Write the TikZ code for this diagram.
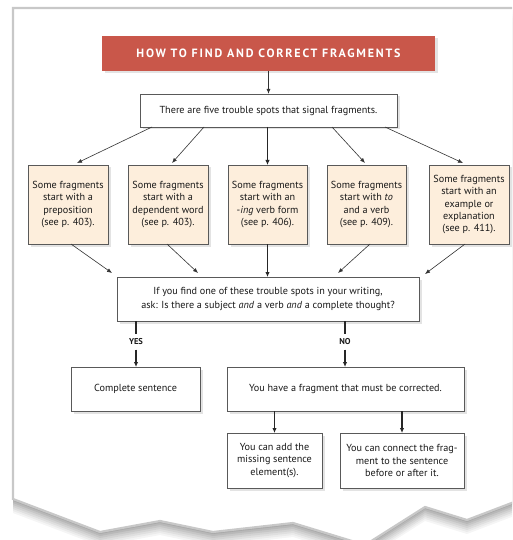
\documentclass[tikz,border=0pt]{standalone}
\usepackage{fontspec}
\setmainfont{PT Sans}
\usetikzlibrary{arrows.meta,shadows,calc}
\definecolor{headred}{HTML}{C9574A}
\definecolor{beige}{HTML}{FDEEDC}
\definecolor{framegray}{HTML}{C8C8C8}
\tikzset{
  box/.style={draw=black!65, line width=0.6pt, fill=white, align=center, inner sep=0pt, outer sep=0pt,
    anchor=north west, font=\fontsize{10.2}{12.4}\selectfont, text=black!90,
    drop shadow={opacity=0.22, shadow xshift=2.5pt, shadow yshift=-2.5pt}},
  spot/.style={box, fill=beige, minimum width=80pt, minimum height=79pt},
  thinarr/.style={draw=black!80, line width=0.6pt, -{Latex[length=5pt,width=4pt]}},
  thickarr/.style={draw=black!85, line width=1.4pt, -{Latex[length=5pt,width=4.5pt]}},
  thickline/.style={draw=black!85, line width=1.4pt},
  lbl/.style={font=\bfseries\fontsize{8.5}{8.5}\selectfont, text=black!90, inner xsep=0pt, inner ysep=4.5pt, outer sep=0pt}
}
\begin{document}
\begin{tikzpicture}[x=1pt,y=-1pt]
\useasboundingbox (0,0) rectangle (512,540);
\clip (0,0) rectangle (512,540);
\fill[white] (0,0) rectangle (512,540);
% torn frame shadow
\foreach \s/\o in {14/0.04,12/0.04,10/0.05,8/0.05,6/0.06,4/0.07,2/0.08}{
  \fill[black, opacity=\o, shift={(0,\s)}]
    (13,8) -- (530,8) -- (530,496) -- (467,520) -- (425,507) -- (365,545) -- (293,523)
    -- (213,532) -- (160,521) -- (100,532) -- (13,499) -- cycle;
}
\fill[white, draw=framegray, line width=2.2pt]
    (13,8) -- (530,8) -- (530,496) -- (467,520) -- (425,507) -- (365,545) -- (293,523)
    -- (213,532) -- (160,521) -- (100,532) -- (13,499) -- cycle;

% header
\node[box, draw=none, fill=headred, minimum width=333pt, minimum height=35pt,
      font=\bfseries\fontsize{12}{14}\selectfont\addfontfeatures{LetterSpace=15}, text=white] (head) at (102,36)
  {HOW TO FIND AND CORRECT FRAGMENTS};
\node[box, minimum width=257pt, minimum height=33pt] (top) at (140,94)
  {There are five trouble spots that signal fragments.};

\node[spot] (b1) at (28,165) {Some fragments\\start with a\\preposition\\(see p. 403).};
\node[spot] (b2) at (128,165) {Some fragments\\start with a\\dependent word\\(see p. 403).};
\node[spot, minimum width=79pt] (b3) at (228,165) {Some fragments\\start with an\\-\textit{ing} verb form\\(see p. 406).};
\node[spot, minimum width=79pt] (b4) at (327,165) {Some fragments\\start with \textit{to}\\and a verb\\(see p. 409).};
\node[spot] (b5) at (429,165) {Some fragments\\start with an\\example or\\explanation\\(see p. 411).};

\node[box, minimum width=302pt, minimum height=44pt, font=\fontsize{10.2}{13.5}\selectfont] (mid) at (117,277)
  {If you find one of these trouble spots in your writing,\\ask: Is there a subject \textit{and} a verb \textit{and} a complete thought?};

\node[lbl] (yes) at (136,342) {YES};
\node[lbl] (no) at (345,342) {NO};

\node[box, minimum width=129pt, minimum height=44pt] (cs) at (71,367) {Complete sentence};
\node[box, minimum width=237pt, minimum height=44pt] (frag) at (227,367) {You have a fragment that must be corrected.};
\node[box, minimum width=95pt, minimum height=55pt] (fa) at (227,433) {You can add the\\missing sentence\\element(s).};
\node[box, minimum width=124pt, minimum height=55pt] (fb) at (340,433) {You can connect the frag-\\ment to the sentence\\before or after it.};

% connectors
\draw[thinarr, line width=0.9pt] (head.south) -- (top.north);
\draw[thinarr] ([xshift=-116.5pt]top.south) -- ($(b1.north)+(9,-2)$);
\draw[thinarr] ([xshift=-64.5pt]top.south) -- ($(b2.north)+(4,-2)$);
\draw[thickarr] (top.south -| b3.north) -- (b3.north);
\draw[thinarr] ([xshift=63.5pt]top.south) -- ($(b4.north)+(-1.5,-2)$);
\draw[thinarr] ([xshift=116.5pt]top.south) -- ($(b5.north)+(-6,-2)$);

\draw[thinarr] ([xshift=3pt]b1.south) -- ($(mid.north west)+(-5,-4)$);
\draw[thinarr] ([xshift=-1pt]b2.south) -- ($(mid.north west)+(81,-4)$);
\draw[thickarr] (b3.south) -- (b3.south |- mid.north);
\draw[thinarr] ([xshift=3.5pt]b4.south) -- ($(mid.north west)+(221,-4)$);
\draw[thinarr] ([xshift=-4pt]b5.south) -- ($(mid.north east)+(6,-3)$);

\draw[thickline] (mid.south -| yes.north) -- (yes.north);
\draw[thickline] (mid.south -| no.north) -- (no.north);
\draw[thickarr] (yes.south) -- (yes.south |- cs.north);
\draw[thickarr] (no.south) -- (no.south |- frag.north);
\draw[thickarr] (frag.south -| fa.north) -- (fa.north);
\draw[thickarr] (frag.south -| fb.north) -- (fb.north);
\end{tikzpicture}
\end{document}
